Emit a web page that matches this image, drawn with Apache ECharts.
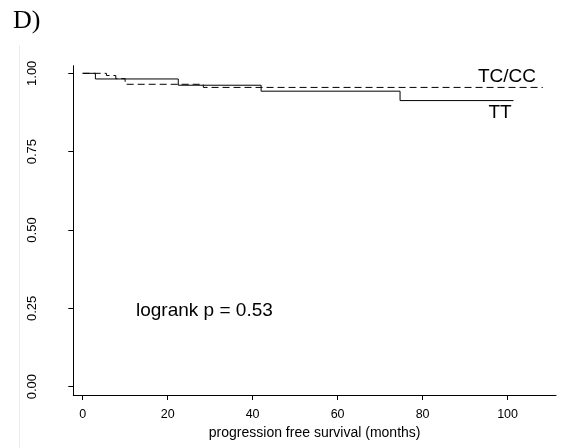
<!DOCTYPE html>
<html>
<head>
<meta charset="utf-8">
<script src="https://cdn.jsdelivr.net/npm/echarts@6/dist/echarts.min.js"></script>
<style>
  html, body { margin: 0; padding: 0; background: #fff; }
  #chart { width: 564px; height: 448px; }
</style>
</head>
<body>
<div id="chart"></div>
<script>
// Kaplan-Meier estimates of progression free survival by genotype
var ttTime = [0, 3, 22.5, 42, 74.7, 101.4];
var ttSurv = [1, 0.982, 0.962, 0.943, 0.913, 0.913];
var tcccTime = [0, 5.6, 7.8, 10, 28.4, 108.3];
var tcccSurv = [1, 0.993, 0.983, 0.965, 0.955, 0.955];

var xTicks = [0, 20, 40, 60, 80, 100];
var yTicks = [0, 0.25, 0.5, 0.75, 1];

function pairs(t, s) {
  return t.map(function (v, i) { return [v, s[i]]; });
}

var FONT = '"Liberation Sans", Arial, sans-serif';
var chart = echarts.init(document.getElementById('chart'), null, { renderer: 'canvas' });

chart.setOption({
  animation: false,
  backgroundColor: '#fff',
  grid: { left: 73.3, right: 8, top: 65.7, bottom: 53, containLabel: false },
  xAxis: {
    type: 'value', min: -2.2, max: 111.4,
    axisLine: { show: true, onZero: false, lineStyle: { color: '#000', width: 1 } },
    axisTick: { show: true, customValues: xTicks, length: 5, lineStyle: { color: '#000', width: 1 } },
    axisLabel: { customValues: xTicks, margin: 13, fontFamily: FONT, fontSize: 12.5, color: '#000' },
    splitLine: { show: false },
    name: 'progression free survival (months)', nameLocation: 'middle', nameGap: 26,
    nameTextStyle: { fontFamily: FONT, fontSize: 14, color: '#000' }
  },
  yAxis: {
    type: 'value', min: -0.0265, max: 1.0243,
    axisLine: { show: true, onZero: false, lineStyle: { color: '#000', width: 1 } },
    axisTick: { show: true, customValues: yTicks, length: 5, lineStyle: { color: '#000', width: 1 } },
    axisLabel: {
      customValues: yTicks, rotate: 90, margin: 34, fontFamily: FONT, fontSize: 13, color: '#000',
      formatter: function (v) { return v.toFixed(2); }
    },
    splitLine: { show: false }
  },
  series: [
    {
      name: 'TT', type: 'line', step: 'end',
      data: pairs(ttTime, ttSurv), symbol: 'none',
      lineStyle: { color: '#000', width: 1 }
    },
    {
      name: 'TC/CC', type: 'line', step: 'end',
      data: pairs(tcccTime, tcccSurv), symbol: 'none',
      lineStyle: { color: '#000', width: 1, type: [7, 4] }
    }
  ],
  graphic: [
    { type: 'line', shape: { x1: 19.5, y1: 45, x2: 19.5, y2: 448 }, style: { stroke: '#ececec', lineWidth: 1 }, silent: true },
    { type: 'text', left: 13, top: 8, style: { text: 'D)', font: '26px "Liberation Serif", "Times New Roman", serif', fill: '#000' } },
    { type: 'text', x: 507, y: 77, style: { text: 'TC/CC', font: '19px ' + FONT, fill: '#000', align: 'center', verticalAlign: 'middle' } },
    { type: 'text', x: 500, y: 113, style: { text: 'TT', font: '19px ' + FONT, fill: '#000', align: 'center', verticalAlign: 'middle' } },
    { type: 'text', x: 136, y: 311, style: { text: 'logrank p = 0.53', font: '19px ' + FONT, fill: '#000', align: 'left', verticalAlign: 'middle' } }
  ]
});
</script>
</body>
</html>
